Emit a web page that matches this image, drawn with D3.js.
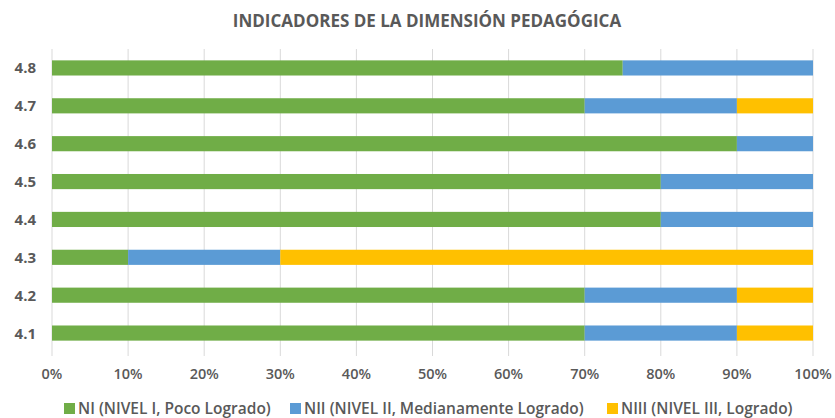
<!DOCTYPE html>
<html lang="es">
<head>
<meta charset="UTF-8">
<title>Indicadores de la dimensión pedagógica</title>
<script src="https://d3js.org/d3.v7.min.js"></script>
<style>
  body { margin: 0; background: #fff; }
  text { font-family: "Open Sans", "Liberation Sans", sans-serif; fill: #595959; }
  .grid line { stroke: #d9d9d9; stroke-width: 1; }
</style>
</head>
<body>
<svg id="chart" width="835" height="418"></svg>
<script>
// data
const indicadores = ["4.8", "4.7", "4.6", "4.5", "4.4", "4.3", "4.2", "4.1"];
const nivel1 = [0.75, 0.70, 0.90, 0.80, 0.80, 0.10, 0.70, 0.70];
const nivel2 = [0.25, 0.20, 0.10, 0.20, 0.20, 0.20, 0.20, 0.20];
const nivel3 = [0.00, 0.10, 0.00, 0.00, 0.00, 0.70, 0.10, 0.10];
const series = ["NI (NIVEL I, Poco Logrado)", "NII (NIVEL II, Medianamente Logrado)", "NIII (NIVEL III, Logrado)"];
const colores = ["#70ad47", "#5b9bd5", "#ffc000"];
const ticks = [0, 0.1, 0.2, 0.3, 0.4, 0.5, 0.6, 0.7, 0.8, 0.9, 1.0];

const svg = d3.select("#chart");
const plotL = 52, plotR = 813, plotT = 49, plotB = 352;

const x = d3.scaleLinear().domain([0, 1]).range([plotL, plotR]);
const y = d3.scaleBand().domain(indicadores).range([plotT, plotB]).paddingInner(0.6).paddingOuter(0.3);

// title
svg.append("text")
    .attr("x", 427).attr("y", 27)
    .attr("text-anchor", "middle")
    .style("font-size", "17px").style("font-weight", "bold")
    .text("INDICADORES DE LA DIMENSIÓN PEDAGÓGICA");

// gridlines
svg.append("g").attr("class", "grid")
    .selectAll("line").data(ticks).join("line")
    .attr("x1", d => x(d)).attr("x2", d => x(d))
    .attr("y1", plotT).attr("y2", plotB + 4);

// stacked bars
const rows = indicadores.map((k, i) => ({ k, v: [nivel1[i], nivel2[i], nivel3[i]] }));
rows.forEach(r => {
  let acc = 0;
  r.v.forEach((v, j) => {
    if (v > 0) {
      svg.append("rect")
          .attr("x", x(acc)).attr("y", y(r.k))
          .attr("width", x(acc + v) - x(acc)).attr("height", y.bandwidth())
          .attr("fill", colores[j]);
    }
    acc += v;
  });
});

// x axis labels
svg.append("g").selectAll("text").data(ticks).join("text")
    .attr("x", d => x(d)).attr("y", 379)
    .attr("text-anchor", "middle")
    .style("font-size", "14.5px").style("font-weight", "600")
    .text(d3.format(".0%"));

// y axis labels
svg.append("g").selectAll("text").data(indicadores).join("text")
    .attr("x", 36).attr("y", d => y(d) + y.bandwidth() / 2 + 5.5)
    .attr("text-anchor", "end")
    .style("font-size", "15px").style("font-weight", "bold")
    .text(d => d);

// legend
const legX = [64, 290, 607];
const leg = svg.append("g").selectAll("g").data(series).join("g")
    .attr("transform", (d, i) => `translate(${legX[i]},403)`);
leg.append("rect").attr("width", 11).attr("height", 11).attr("fill", (d, i) => colores[i]);
leg.append("text").attr("x", 14).attr("y", 11)
    .style("font-size", "15.5px").style("font-weight", "600")
    .text(d => d);
</script>
</body>
</html>
